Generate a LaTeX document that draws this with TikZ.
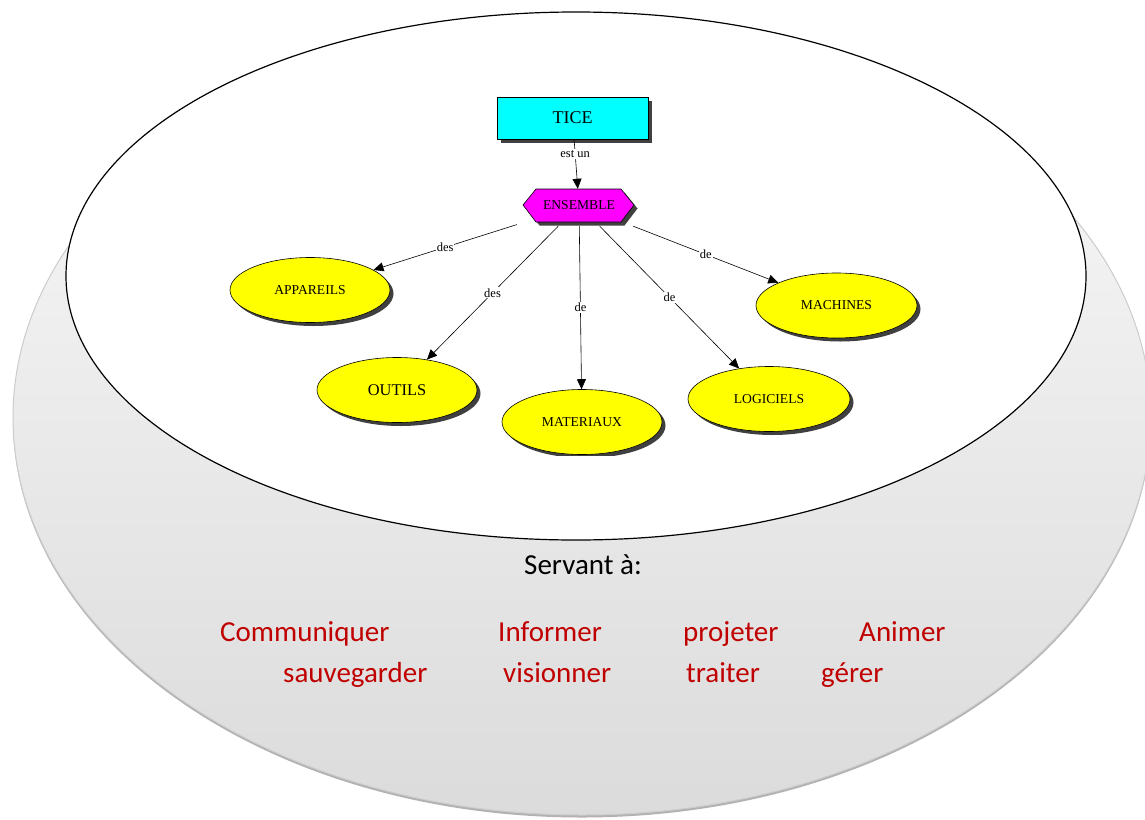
\documentclass[tikz,border=0pt]{standalone}
\usepackage{fontspec}
\setmainfont{Liberation Serif}
\newfontfamily\calib{Carlito}
\usetikzlibrary{arrows.meta,shadows,shapes.geometric}
\definecolor{redtxt}{HTML}{C00000}
\definecolor{shad}{HTML}{404040}
\definecolor{ticecyan}{HTML}{00FFFF}
\definecolor{ensmag}{HTML}{FF00FF}
\definecolor{concyel}{HTML}{FFFF00}
\begin{document}
\begin{tikzpicture}[x=1pt,y=-1pt,
  myshadow/.style={drop shadow={shadow xshift=3.5pt,shadow yshift=-3.5pt,fill=shad,opacity=1}},
  concept/.style={ellipse,draw=black,line width=0.6pt,fill=concyel,minimum width=160pt,minimum height=65pt,inner sep=0pt,font=\fontsize{13.6}{16}\selectfont,myshadow},
  link/.style={draw=black,line width=0.6pt,-{Triangle[length=10pt,width=9pt]}},
  lab/.style={fill=white,inner sep=1pt,font=\fontsize{12.5}{14}\selectfont},
  verb/.style={font=\calib\fontsize{29}{34}\selectfont,text=redtxt,anchor=base west,inner sep=0pt}
]
\useasboundingbox (0,0) rectangle (1145,819);
\fill[white] (0,0) rectangle (1145,819);
% big grey disc
\fill[black!30] (582,420) ellipse [x radius=569, y radius=397.5];
\shade[top color=black!2, bottom color=black!14, draw=black!20, line width=1pt] (582,417.5) ellipse [x radius=569, y radius=397.5];
% white disc
\draw[fill=white, line width=1.2pt] (576,276) ellipse [x radius=510, y radius=264];

\begin{scope}
\clip (0,0) rectangle (1145,455);
\node[rectangle,draw=black,line width=0.6pt,fill=ticecyan,minimum width=151pt,minimum height=42pt,inner sep=0pt,font=\fontsize{18}{20}\selectfont,myshadow] (TICE) at (572.5,118) {TICE};

\node[draw=none,minimum width=124pt,minimum height=42pt,inner sep=0pt] (ENSEMBLE) at (579,205) {};
\fill[shad] ([shift={(3.5,3.5)}]ENSEMBLE.center) +(-56,0) -- +(-43,-16) -- +(42,-16) -- +(55,0) -- +(42,17) -- +(-43,17) -- cycle;
\draw[fill=ensmag,line width=0.6pt] (ENSEMBLE.center) +(-56,0) -- +(-43,-16) -- +(42,-16) -- +(55,0) -- +(42,17) -- +(-43,17) -- cycle;
\node[font=\fontsize{13.6}{16}\selectfont,inner sep=0pt] (ENSText) at (ENSEMBLE.center) {ENSEMBLE};

\node[concept] (APPAREILS) at (310,290) {APPAREILS};
\node[concept,font=\fontsize{16.4}{19}\selectfont] (OUTILS) at (397,390) {OUTILS};
\node[concept] (MATERIAUX) at (582,422) {MATERIAUX};
\node[concept,minimum width=162pt] (LOGICIELS) at (769,399) {LOGICIELS};
\node[concept,minimum width=161pt] (MACHINES) at (836.5,305.5) {MACHINES};

\draw[link,shorten >=-5pt] (TICE) -- node[lab,pos=0.33] {est un} (ENSEMBLE);
\draw[link] (ENSEMBLE) -- node[lab] {des} (APPAREILS);
\draw[link] (ENSEMBLE) -- node[lab] {des} (OUTILS);
\draw[link] (ENSEMBLE) -- node[lab] {de} (MATERIAUX);
\draw[link] (ENSEMBLE) -- node[lab] {de} (LOGICIELS);
\draw[link] (ENSEMBLE) -- node[lab] {de} (MACHINES);
\end{scope}

\node[font=\calib\fontsize{29}{34}\selectfont,anchor=base west,inner sep=0pt] (servant) at (524,574) {Servant à:};
\node[verb] (v1) at (220,641) {Communiquer};
\node[verb] (v2) at (498,641) {Informer};
\node[verb] (v3) at (683,641) {projeter};
\node[verb] (v4) at (859,641) {Animer};
\node[verb] (v5) at (283,682) {sauvegarder};
\node[verb] (v6) at (503,682) {visionner};
\node[verb] (v7) at (686,682) {traiter};
\node[verb] (v8) at (821,682) {gérer};
\end{tikzpicture}
\end{document}
